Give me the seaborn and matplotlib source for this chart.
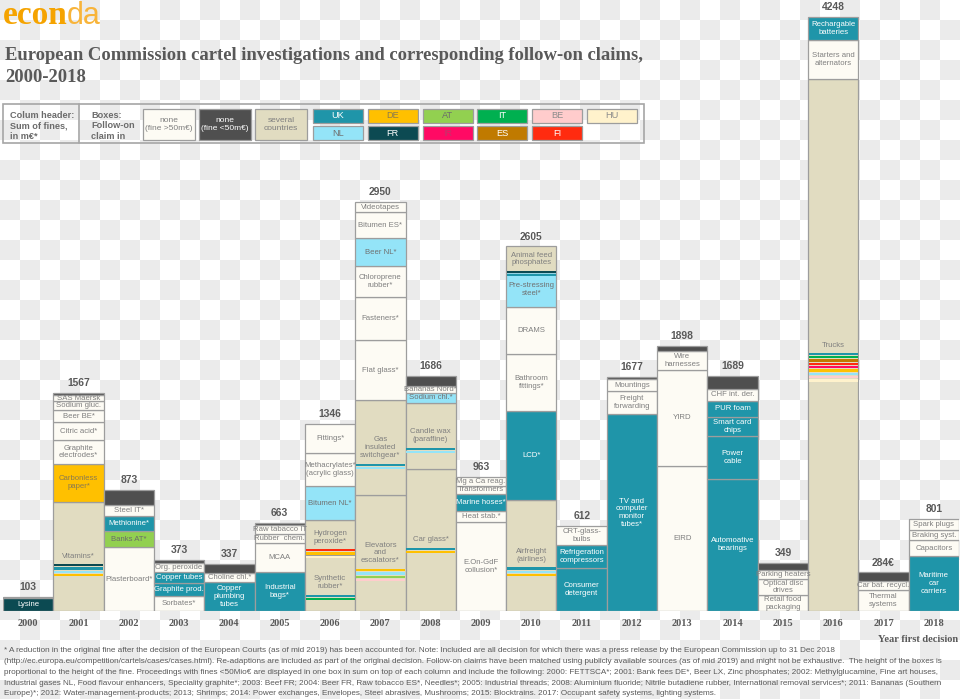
import numpy as np
import matplotlib
matplotlib.use("Agg")
import matplotlib.pyplot as plt
from matplotlib import font_manager
from matplotlib.colors import ListedColormap
from matplotlib.patches import Rectangle
import seaborn as sns

# ---- data (fines in m EUR, boxes listed from bottom to top) ----
years = ["2000", "2001", "2002", "2003", "2004", "2005", "2006", "2007", "2008", "2009",
         "2010", "2011", "2012", "2013", "2014", "2015", "2016", "2017", "2018"]
header_labels = ["103", "1567", "873", "373", "337", "663", "1346", "2950", "1686", "963",
                 "2605", "612", "1677", "1898", "1689", "349", "4248", "284€", "801"]

boxes_2000 = [("Lysine", 95, "FR"), ("", 8, "small")]
boxes_2001 = [("Vitamins*", 782, "several"), ("Carbonless\npaper*", 270, "DE"),
              ("Graphite\nelectrodes*", 172, "none"), ("Citric acid*", 126, "none"),
              ("Beer BE*", 89, "none"), ("Sodium gluc.", 60, "none"),
              ("SAS Maersk", 46, "none"), ("", 14, "small")]
boxes_2002 = [("Plasterboard*", 456, "none"), ("Banks AT*", 118, "AT"),
              ("Methionine*", 103, "UK"), ("Steel IT*", 78, "none"), ("", 114, "small")]
boxes_2003 = [("Sorbates*", 105, "none"), ("Graphite prod.", 95, "UK"),
              ("Copper tubes", 81, "UK"), ("Org. peroxide", 64, "none"), ("", 21, "small")]
boxes_2004 = [("Copper\nplumbing\ntubes", 205, "UK"), ("Choline chl.*", 64, "none"),
              ("", 69, "small")]
boxes_2005 = [("Industrial\nbags*", 279, "UK"), ("MCAA", 207, "none"),
              ("Rubber  chem.", 67, "none"), ("Raw tabacco IT", 64, "none"), ("", 14, "small")]
boxes_2006 = [("Synthetic\nrubber*", 403, "several"), ("Hydrogen\nperoxide*", 250, "several"),
              ("Bitumen NL*", 238, "NL"), ("Methacrylates*\n(acrylic glass)", 238, "none"),
              ("Fittings*", 212, "none")]
boxes_2007 = [("Elevators\nand\nescalators*", 832, "several"),
              ("Gas\ninsulated\nswitchgear*", 675, "several"), ("Flat glass*", 434, "none"),
              ("Fasteners*", 305, "none"), ("Chloroprene\nrubber*", 219, "none"),
              ("Beer NL*", 203, "NL"), ("Bitumen ES*", 186, "none"), ("Videotapes", 72, "none")]
boxes_2008 = [("Car glass*", 1018, "several"), ("Candle wax\n(paraffine)", 470, "several"),
              ("Sodium chl.*", 72, "NL"), ("Bananas Nord*", 50, "none"), ("", 72, "small")]
boxes_2009 = [("E.On-GdF\ncollusion*", 637, "none"), ("Heat stab.*", 79, "none"),
              ("Marine hoses*", 119, "UK"), ("Transformers", 62, "none"),
              ("Mg a Ca reag.", 60, "none")]
boxes_2010 = [("Airfreight\n(airlines)", 797, "several"), ("LCD*", 632, "UK"),
              ("Bathroom\nfittings*", 413, "none"), ("DRAMS", 334, "none"),
              ("Pre-stressing\nsteel*", 253, "NL"), ("Animal feed\nphosphates", 179, "several")]
boxes_2011 = [("Consumer\ndetergent", 308, "UK"), ("Refrigeration\ncompressors", 162, "UK"),
              ("CRT-glass-\nbulbs", 138, "none")]
boxes_2012 = [("TV and\ncomputer\nmonitor\ntubes*", 1407, "UK"),
              ("Freight\nforwarding", 169, "none"), ("Mountings", 81, "none"), ("", 19, "small")]
boxes_2013 = [("EIRD", 1040, "none"), ("YIRD", 684, "none"),
              ("Wire\nharnesses", 138, "none"), ("", 36, "small")]
boxes_2014 = [("Automoative\nbearings", 947, "UK"), ("Power\ncable", 303, "UK"),
              ("Smart card\nchips", 138, "UK"), ("PUR foam", 117, "UK"),
              ("CHF int. der.", 86, "none"), ("", 93, "small")]
boxes_2015 = [("Retail food\npackaging", 112, "none"), ("Optical disc\ndrives", 119, "none"),
              ("Parking heaters", 60, "none"), ("", 55, "small")]
boxes_2016 = [("Trucks", 3804, "several"), ("Starters and\nalternators", 279, "none"),
              ("Rechargable\nbatteries", 165, "UK")]
boxes_2017 = [("Thermal\nsystems", 150, "none"), ("Car bat. recycl.", 62, "none"),
              ("", 64, "small")]
boxes_2018 = [("Maritime\ncar\ncarriers", 391, "UK"), ("Capacitors", 115, "none"),
              ("Braking syst.", 72, "none"), ("Spark plugs", 81, "none")]

columns = [boxes_2000, boxes_2001, boxes_2002, boxes_2003, boxes_2004, boxes_2005, boxes_2006,
           boxes_2007, boxes_2008, boxes_2009, boxes_2010, boxes_2011, boxes_2012, boxes_2013,
           boxes_2014, boxes_2015, boxes_2016, boxes_2017, boxes_2018]

# follow-on countries inside "several countries" boxes (top to bottom)
stripes = {
    "Vitamins*": ["FR", "UK", "NL", "DE"],
    "Hydrogen\nperoxide*": ["FI", "DE", "HU"],
    "Synthetic\nrubber*": ["UK", "IT"],
    "Gas\ninsulated\nswitchgear*": ["UK", "NL"],
    "Elevators\nand\nescalators*": ["DE", "NL", "AT", "BE"],
    "Candle wax\n(paraffine)": ["UK", "NL"],
    "Car glass*": ["UK", "DE"],
    "Animal feed\nphosphates": ["FR", "UK"],
    "Airfreight\n(airlines)": ["UK", "NL", "DE"],
    "Trucks": ["UK", "IT", "ES", "FI", "IR", "DE", "NL", "BE", "HU"],
}

legend_top = ["UK", "DE", "AT", "IT", "BE", "HU"]
legend_bottom = ["NL", "FR", "IR", "ES", "FI"]

footnote = [
    "* A reduction in the original fine after the decision of the European Courts (as of mid 2019) has been accounted for. Note: Included are all decision for which there was a press release by the European Commission up to 31 Dec 2018",
    "(http://ec.europa.eu/competition/cartels/cases/cases.html). Re-adaptions are included as part of the original decision. Follow-on claims have been matched using publicly available sources (as of mid 2019) and might not be exhaustive.  The height of the boxes is",
    "proportional to the height of the fine. Proceedings with fines <50Mio€ are displayed in one box in sum on top of each column and include the following: 2000: FETTSCA*; 2001: Bank fees DE*, Beer LX, Zinc phosphates; 2002: Methylglucamine, Fine art houses,",
    "Industrial gases NL, Food flavour enhancers, Speciality graphite*; 2003: Beef FR; 2004: Beer FR, Raw tobacco ES*, Needles*; 2005: Industrial threads; 2008: Aluminium fluoride; Nitrile butadiene rubber, International removal services*; 2011: Bananas (Southern",
    "Europe)*; 2012: Water-management-products; 2013; Shrimps; 2014: Power exchanges, Envelopes, Steel abrasives, Mushrooms; 2015: Blocktrains. 2017: Occupant safety systems, lighting systems.",
]

# ---- styles ----
fill = {"none": "#fdfbf4", "small": "#4f4f4f", "several": "#e1dcc1",
        "UK": "#1f95a9", "DE": "#ffc000", "AT": "#92d050", "IT": "#00b050",
        "BE": "#ffcccc", "HU": "#fff2cc", "NL": "#94e4f8", "FR": "#0c4a52",
        "IR": "#ff0a64", "ES": "#c07a00", "FI": "#ff2b0f"}
text_col = {"none": "#7f7f7f", "small": "white", "several": "#7f7f7f",
            "UK": "white", "DE": "#8a7a50", "AT": "#6b6b6b", "IT": "white",
            "BE": "#8c8c8c", "HU": "#8c8c8c", "NL": "#707070", "FR": "white",
            "IR": "#c8306a", "ES": "white", "FI": "white"}
legend_names = {"none": "none\n(fine >50m€)", "small": "none\n(fine <50m€)",
                "several": "several\ncountries"}

sns.set_theme(style="white")
names = {f.name for f in font_manager.fontManager.ttflist}
NARROW = "Liberation Sans Narrow" if "Liberation Sans Narrow" in names else "Liberation Sans"
SANS = "Liberation Sans"
SERIF = "Liberation Serif"
GREY = "#595959"
EDGE = "#9d9d9d"

W, H = 960, 699
fig = plt.figure(figsize=(W / 100, H / 100), dpi=100)

# background / decoration axes in pixel coordinates
bg = fig.add_axes([0, 0, 1, 1])
bg.set_xlim(0, W)
bg.set_ylim(H, 0)
bg.axis("off")
ii, jj = np.meshgrid(np.arange(48), np.arange(35))
checker = ((ii + jj) % 2 == 0).astype(int)
bg.imshow(checker, cmap=ListedColormap(["white", "#ebebeb"]), extent=(0, 960, 700, 0),
          interpolation="nearest", aspect="auto", zorder=0)

# main chart axes: baseline at y=611 px, 1 px ~ 7.155 m EUR
ymax = 4300
px = ymax / 601
ax = fig.add_axes([3 / W, (H - 611) / H, 956 / W, 601 / H])
ax.patch.set_alpha(0)
ax.set_xlim(-0.5, 18.5)
ax.set_ylim(0, ymax)
sns.despine(ax=ax, left=True, bottom=True)
ax.set_yticks([])
ax.set_xticks(range(len(years)))
ax.set_xticklabels(years, fontfamily=SERIF, fontweight="bold", fontsize=7.5, color=GREY)
ax.tick_params(axis="x", length=0, pad=5.5)
ax.grid(False)

for i, col in enumerate(columns):
    bottom = 0
    for label, fine, kind in col:
        ax.bar(i, fine, bottom=bottom, width=1, color=fill[kind], edgecolor=EDGE,
               linewidth=0.9, zorder=2)
        mid = bottom + fine / 2
        if label:
            ax.text(i, mid, label, ha="center", va="center", fontsize=5.6,
                    fontfamily=NARROW, color=text_col[kind], linespacing=1.15, zorder=4)
        if label in stripes:
            n_lines = label.count("\n") + 1
            start = mid - (n_lines * 4.2 + 3.5) * px
            for k, c in enumerate(stripes[label]):
                ax.bar(i, 2.3 * px, bottom=start - (k * 3.3 + 2.3) * px, width=0.975,
                       color=fill[c], linewidth=0, zorder=3)
        bottom += fine
    ax.annotate(header_labels[i], (i, bottom), xytext=(0, 3.5), textcoords="offset points",
                ha="center", va="bottom", fontsize=7.4, fontweight="bold",
                fontfamily=SANS, color=GREY)

# logo and title
bg.text(3, 24, "econ", fontsize=24, fontweight="bold", fontfamily=SERIF,
        color="#f5a300", va="baseline", ha="left")
bg.text(67, 24, "da", fontsize=22, fontfamily=SANS, color="#f8b43a",
        va="baseline", ha="left")
bg.text(5, 60.5, "European Commission cartel investigations and corresponding follow-on claims,",
        fontsize=13.4, fontweight="bold", fontfamily=SERIF, color=GREY, va="baseline")
bg.text(5, 82.5, "2000-2018", fontsize=13.4, fontweight="bold", fontfamily=SERIF,
        color=GREY, va="baseline")

# legend box
bg.add_patch(Rectangle((3, 104), 641, 39, fill=False, edgecolor="#a6a6a6", linewidth=1.2))
bg.plot([79, 79], [104, 143], color="#a6a6a6", linewidth=1.2)
bg.text(10, 126, "Colum header:\nSum of fines,\nin m€*", fontsize=6.6, fontweight="bold",
        fontfamily=SANS, color="#6b6b6b", va="center", linespacing=1.2)
bg.text(91, 126, "Boxes:\nFollow-on\nclaim in", fontsize=6.6, fontweight="bold",
        fontfamily=SANS, color="#6b6b6b", va="center", linespacing=1.2)
for k, kind in enumerate(["none", "small", "several"]):
    x0 = 143 + k * 56
    bg.add_patch(Rectangle((x0, 109), 52, 31, facecolor=fill[kind], edgecolor=EDGE,
                           linewidth=0.9))
    bg.text(x0 + 26, 124.5, legend_names[kind], ha="center", va="center", fontsize=6.0,
            fontfamily=NARROW, color=text_col[kind], linespacing=1.35)
for row, codes in enumerate([legend_top, legend_bottom]):
    for k, code in enumerate(codes):
        x0 = 313 + k * 54.8
        y0 = 109 + row * 17
        bg.add_patch(Rectangle((x0, y0), 50, 14, facecolor=fill[code], edgecolor=EDGE,
                               linewidth=0.9))
        bg.text(x0 + 25, y0 + 7, code, ha="center", va="center", fontsize=6.6,
                fontfamily=SANS, color=text_col[code])

bg.text(958, 640, "Year first decision", ha="right", va="center", fontsize=7.5,
        fontweight="bold", fontfamily=SERIF, color=GREY)

# footnote, sized so that the longest line spans the page width
notes = [bg.text(4, 651 + n * 10.7, line, fontsize=5.5, fontfamily=NARROW, color=GREY,
                 va="center", ha="left") for n, line in enumerate(footnote)]
renderer = fig.canvas.get_renderer()
widest = max(t.get_window_extent(renderer).width for t in notes)
for t in notes:
    t.set_fontsize(5.5 * 951 / widest)

fig.savefig("out.png", dpi=100)
